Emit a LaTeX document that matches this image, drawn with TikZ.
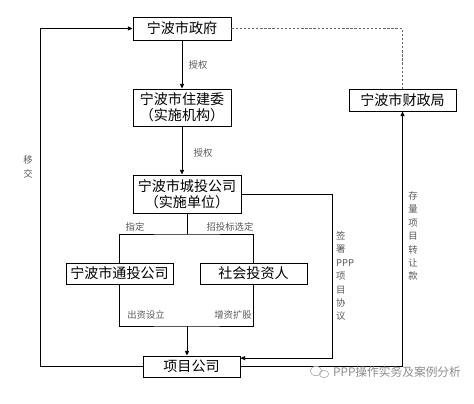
\documentclass[tikz,border=0pt]{standalone}
\usepackage{fontspec}
\newfontfamily\cjk{Noto Sans CJK SC}
\usetikzlibrary{arrows.meta}

\begin{document}
\begin{tikzpicture}[
    x=0.03cm, y=-0.03cm,
    box/.style={draw, line width=0.8pt, inner sep=0pt, align=center, font=\cjk\fontsize{12}{14}\selectfont},
    edge/.style={line width=0.7pt},
    arr/.style={edge, -{Triangle[length=4pt, width=3.5pt]}},
    lab/.style={inner sep=0pt, text=black!65, align=center, font=\cjk\fontsize{8}{11.5}\selectfont}
]
\useasboundingbox (0,0) rectangle (474,404);

\node[box, minimum width=2.94cm, minimum height=0.69cm] (zf) at (182,28.5) {宁波市政府};
\node[box, minimum width=2.94cm, minimum height=1.11cm] (zjw) at (182,107.5) {宁波市住建委\\（实施机构）};
\node[box, minimum width=3.21cm, minimum height=0.66cm] (czj) at (402.5,100) {宁波市财政局};
\node[box, minimum width=3.24cm, minimum height=1.14cm] (ct) at (187,194) {宁波市城投公司\\（实施单位）};
\node[box, minimum width=3.21cm, minimum height=0.63cm] (tt) at (119.5,273.5) {宁波市通投公司};
\node[box, minimum width=3.21cm, minimum height=0.63cm] (sh) at (253.5,273.5) {社会投资人};
\node[box, minimum width=2.91cm, minimum height=0.63cm] (xm) at (191.5,366.5) {项目公司};

\coordinate (cl) at (40,0);
\coordinate (cm) at (332,0);
\coordinate (br) at (187,234);
\coordinate (mg) at (187,326);

\draw[arr] (zf) -- (zjw);
\draw[arr] (zjw.south) -- (zjw.south |- ct.north);
\draw[edge] (ct.south -| br) -- (br);
\draw[edge] (tt.north) |- (br) -| (sh.north);
\draw[edge] (tt.south) |- (mg) -| (sh.south);
\draw[arr] (mg) -- (mg |- xm.north);
\draw[arr] (xm.west) -- (xm.west -| cl) |- (zf.west);
\draw[edge, black!60, dash pattern=on 2pt off 1.5pt] (zf.east) -| (czj.north);
\draw[arr] (xm.east) -| (czj.south);
\draw[arr] (ct.east) -- (ct.east -| cm) |- ([yshift=0.25cm]xm.east);

\node[lab] (l1) at (198,65) {授权};
\node[lab] (l2) at (203,153) {授权};
\node[lab] (l3) at (135,227) {指定};
\node[lab] (l4) at (230,227) {招投标选定};
\node[lab] (l5) at (146,315) {出资设立};
\node[lab] (l6) at (233,315) {增资扩股};
\node[lab] (l7) at (28,167) {移\\交};
\node[lab, align=left, anchor=west] (l8) at (336,276) {签\\署\\PPP\\项\\目\\协\\议};
\node[lab] (l9) at (413,236) {存\\量\\项\\目\\转\\让\\款};

% watermark
\draw[black!30, line width=0.6pt] (316,371) ellipse (5pt and 4pt);
\draw[black!30, line width=0.6pt] (324,374) ellipse (4pt and 3.2pt);
\node[anchor=west, inner sep=0pt, text=black!45, font=\cjk\fontsize{10}{12}\selectfont] (wm) at (333,372) {PPP操作实务及案例分析};
\end{tikzpicture}
\end{document}
